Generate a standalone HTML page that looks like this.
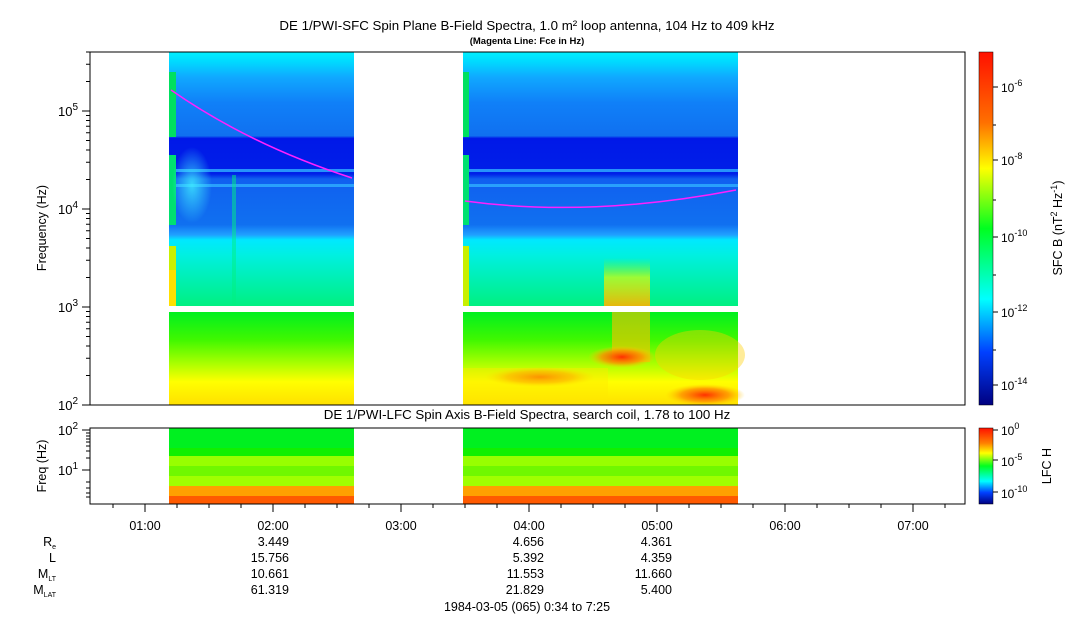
<!DOCTYPE html>
<html><head><meta charset="utf-8"><style>
body{margin:0;background:#fff;}
svg{display:block;font-family:"Liberation Sans",sans-serif;}
</style></head><body>
<svg width="1083" height="620" viewBox="0 0 1083 620" xmlns="http://www.w3.org/2000/svg">
<defs>
<linearGradient id="low" x1="0" y1="0" x2="0" y2="1">
<stop offset="0" stop-color="#00f020"/><stop offset="0.3" stop-color="#40f800"/><stop offset="0.55" stop-color="#a8ff00"/><stop offset="0.75" stop-color="#ffff00"/><stop offset="1" stop-color="#ffe000"/></linearGradient>
<linearGradient id="upb" x1="0" y1="0" x2="0" y2="1">
<stop offset="0" stop-color="#00f0ff"/><stop offset="0.04" stop-color="#00d8ff"/><stop offset="0.1" stop-color="#10a8ff"/><stop offset="0.2" stop-color="#1080f8"/><stop offset="0.33" stop-color="#1070f0"/><stop offset="0.34" stop-color="#0018e8"/><stop offset="0.48" stop-color="#0020e8"/><stop offset="0.5" stop-color="#1060f0"/><stop offset="0.68" stop-color="#1070f0"/><stop offset="0.72" stop-color="#20a0ff"/><stop offset="0.74" stop-color="#00e8ff"/><stop offset="0.8" stop-color="#00f0e0"/><stop offset="1" stop-color="#00f080"/></linearGradient>
<linearGradient id="cb" x1="0" y1="0" x2="0" y2="1">
<stop offset="0" stop-color="#ff1000"/><stop offset="0.2" stop-color="#ff7000"/><stop offset="0.33" stop-color="#ffff00"/><stop offset="0.5" stop-color="#00ff20"/><stop offset="0.7" stop-color="#00ffff"/><stop offset="0.85" stop-color="#0040ff"/><stop offset="1" stop-color="#000080"/></linearGradient>
<linearGradient id="cb2" x1="0" y1="0" x2="0" y2="1">
<stop offset="0" stop-color="#ff1000"/><stop offset="0.2" stop-color="#ff8000"/><stop offset="0.33" stop-color="#ffff00"/><stop offset="0.5" stop-color="#00ff20"/><stop offset="0.7" stop-color="#00ffff"/><stop offset="0.85" stop-color="#0040ff"/><stop offset="1" stop-color="#000080"/></linearGradient>
<linearGradient id="burst" x1="0" y1="0" x2="0" y2="1">
<stop offset="0" stop-color="#80ff00" stop-opacity="0"/><stop offset="0.4" stop-color="#e0ff00" stop-opacity="0.7"/><stop offset="1" stop-color="#ffb000" stop-opacity="0.9"/></linearGradient>
<radialGradient id="hot"><stop offset="0" stop-color="#ff3000"/><stop offset="0.6" stop-color="#ff9000" stop-opacity="0.8"/><stop offset="1" stop-color="#ffd000" stop-opacity="0"/></radialGradient>
<radialGradient id="cy"><stop offset="0" stop-color="#40f0ff" stop-opacity="0.8"/><stop offset="1" stop-color="#40f0ff" stop-opacity="0"/></radialGradient>
</defs>

<text x="527" y="30" font-size="13.3" text-anchor="middle">DE 1/PWI-SFC  Spin Plane B-Field Spectra, 1.0 m² loop antenna, 104 Hz to 409 kHz</text>
<text x="527" y="44" font-size="9.5" font-weight="bold" text-anchor="middle">(Magenta Line: Fce in Hz)</text>

<!-- block 1 -->
<rect x="169" y="52" width="185" height="254" fill="url(#upb)"/>
<rect x="169" y="169" width="185" height="3" fill="#30b0ff" opacity="0.8"/>
<rect x="169" y="184" width="185" height="3" fill="#30b0ff" opacity="0.8"/>
<rect x="169" y="312" width="185" height="93" fill="url(#low)"/>
<rect x="169" y="72" width="7" height="65" fill="#00e060"/>
<rect x="169" y="155" width="7" height="70" fill="#00e070"/>
<rect x="169" y="246" width="7" height="60" fill="#c8f000"/>
<rect x="169" y="270" width="7" height="36" fill="#ffe000"/>
<ellipse cx="192" cy="185" rx="20" ry="38" fill="url(#cy)"/>
<rect x="232" y="175" width="4" height="130" fill="#00f080" opacity="0.5"/>
<!-- block 2 -->
<rect x="463" y="52" width="275" height="254" fill="url(#upb)"/>
<rect x="463" y="169" width="275" height="3" fill="#30b0ff" opacity="0.8"/>
<rect x="463" y="184" width="275" height="3" fill="#30b0ff" opacity="0.8"/>
<rect x="463" y="312" width="275" height="93" fill="url(#low)"/>
<rect x="463" y="72" width="6" height="65" fill="#00e060"/>
<rect x="463" y="155" width="6" height="70" fill="#00e070"/>
<rect x="463" y="246" width="6" height="60" fill="#c8f000"/>
<rect x="604" y="258" width="46" height="48" fill="url(#burst)"/>
<rect x="612" y="312" width="38" height="50" fill="#ffc000" opacity="0.6"/>
<ellipse cx="622" cy="357" rx="34" ry="11" fill="url(#hot)"/>
<ellipse cx="540" cy="377" rx="55" ry="10" fill="url(#hot)" opacity="0.8"/>
<ellipse cx="705" cy="395" rx="40" ry="11" fill="url(#hot)"/>
<ellipse cx="700" cy="355" rx="45" ry="25" fill="#ffd000" opacity="0.4"/>
<rect x="463" y="368" width="145" height="37" fill="#ffe800" opacity="0.4"/>
<path d="M171,90 Q250,145 352,178" stroke="#ff20ff" stroke-width="1.5" fill="none"/>
<path d="M465,201 Q590,218 736,190" stroke="#ff20ff" stroke-width="1.5" fill="none"/>

<rect x="90" y="52" width="875" height="353" fill="none" stroke="#000" stroke-width="1"/>
<g stroke="#000">
<line x1="82" y1="405" x2="90" y2="405"/><line x1="82" y1="307" x2="90" y2="307"/><line x1="82" y1="209" x2="90" y2="209"/><line x1="82" y1="111" x2="90" y2="111"/>
<path d="M86,375.5h4M86,358.3h4M86,346h4M86,336.5h4M86,328.7h4M86,322.2h4M86,316.5h4M86,311.5h4
M86,277.5h4M86,260.3h4M86,248h4M86,238.5h4M86,230.7h4M86,224.2h4M86,218.5h4M86,213.5h4
M86,179.5h4M86,162.3h4M86,150h4M86,140.5h4M86,132.7h4M86,126.2h4M86,120.5h4M86,115.5h4
M86,81.5h4M86,64.3h4M86,52h4"/>
</g>
<g font-size="13" text-anchor="end">
<text x="78" y="410">10<tspan font-size="10" dy="-6">2</tspan></text>
<text x="78" y="312">10<tspan font-size="10" dy="-6">3</tspan></text>
<text x="78" y="214">10<tspan font-size="10" dy="-6">4</tspan></text>
<text x="78" y="116">10<tspan font-size="10" dy="-6">5</tspan></text>
</g>
<text transform="translate(46,228) rotate(-90)" font-size="12.5" text-anchor="middle">Frequency (Hz)</text>

<rect x="979" y="52" width="14" height="353" fill="url(#cb)" stroke="#000" stroke-width="0.5"/>
<g stroke="#000"><path d="M993,87h5M993,125h3M993,160h5M993,200h3M993,237h5M993,275h3M993,312h5M993,350h3M993,385h5"/></g>
<g font-size="12">
<text x="1001" y="92">10<tspan font-size="9" dy="-6">-6</tspan></text>
<text x="1001" y="165">10<tspan font-size="9" dy="-6">-8</tspan></text>
<text x="1001" y="242">10<tspan font-size="9" dy="-6">-10</tspan></text>
<text x="1001" y="317">10<tspan font-size="9" dy="-6">-12</tspan></text>
<text x="1001" y="390">10<tspan font-size="9" dy="-6">-14</tspan></text>
</g>
<text transform="translate(1062,228) rotate(-90)" font-size="12.5" text-anchor="middle">SFC B (nT<tspan font-size="9" dy="-5">2</tspan><tspan dy="5"> Hz</tspan><tspan font-size="9" dy="-5">-1</tspan><tspan dy="5">)</tspan></text>

<text x="527" y="419" font-size="13.3" text-anchor="middle">DE 1/PWI-LFC  Spin Axis B-Field Spectra, search coil, 1.78 to 100 Hz</text>
<g>
<rect x="169" y="428" width="185" height="20" fill="#00f020"/><rect x="169" y="448" width="185" height="8" fill="#10f000"/><rect x="169" y="456" width="185" height="10" fill="#98ff00"/><rect x="169" y="466" width="185" height="10" fill="#70f800"/><rect x="169" y="476" width="185" height="10" fill="#a0ff00"/><rect x="169" y="486" width="185" height="10" fill="#ffa000"/><rect x="169" y="496" width="185" height="8" fill="#ff5a00"/>
<rect x="463" y="428" width="275" height="20" fill="#00f020"/><rect x="463" y="448" width="275" height="8" fill="#10f000"/><rect x="463" y="456" width="275" height="10" fill="#98ff00"/><rect x="463" y="466" width="275" height="10" fill="#70f800"/><rect x="463" y="476" width="275" height="10" fill="#a0ff00"/><rect x="463" y="486" width="275" height="10" fill="#ffa000"/><rect x="463" y="496" width="275" height="8" fill="#ff5a00"/>
</g>
<rect x="90" y="428" width="875" height="76" fill="none" stroke="#000"/>
<g stroke="#000"><path d="M82,430h8M82,470h8M86,482h4M86,458h4M86,451h4M86,446h4M86,442h4M86,439h4M86,436h4M86,433h4M86,488h4M86,493h4M86,497h4"/></g>
<g font-size="13" text-anchor="end">
<text x="78" y="435">10<tspan font-size="10" dy="-6">2</tspan></text>
<text x="78" y="475">10<tspan font-size="10" dy="-6">1</tspan></text>
</g>
<text transform="translate(46,466) rotate(-90)" font-size="12.5" text-anchor="middle">Freq (Hz)</text>
<rect x="979" y="428" width="14" height="76" fill="url(#cb2)" stroke="#000" stroke-width="0.5"/>
<g stroke="#000"><path d="M993,430h5M993,460h5M993,492h5"/></g>
<g font-size="12">
<text x="1001" y="435">10<tspan font-size="9" dy="-6">0</tspan></text>
<text x="1001" y="466">10<tspan font-size="9" dy="-6">-5</tspan></text>
<text x="1001" y="498">10<tspan font-size="9" dy="-6">-10</tspan></text>
</g>
<text transform="translate(1051,466) rotate(-90)" font-size="12.5" text-anchor="middle">LFC H</text>

<g stroke="#000">
<path d="M145,504v8M273,504v8M401,504v8M529,504v8M657,504v8M785,504v8M913,504v8"/>
<path d="M113,504v4M177,504v4M209,504v4M241,504v4M305,504v4M337,504v4M369,504v4M433,504v4M465,504v4M497,504v4M561,504v4M593,504v4M625,504v4M689,504v4M721,504v4M753,504v4M817,504v4M849,504v4M881,504v4M945,504v4"/>
</g>
<g font-size="12.5" text-anchor="middle">
<text x="145" y="530">01:00</text><text x="273" y="530">02:00</text><text x="401" y="530">03:00</text><text x="529" y="530">04:00</text><text x="657" y="530">05:00</text><text x="785" y="530">06:00</text><text x="913" y="530">07:00</text>
</g>
<g font-size="12.5" text-anchor="end">
<text x="56" y="546">R<tspan font-size="7" dy="3">e</tspan></text>
<text x="56" y="562">L</text>
<text x="56" y="578">M<tspan font-size="7" dy="3">LT</tspan></text>
<text x="56" y="594">M<tspan font-size="7" dy="3">LAT</tspan></text>
<text x="289" y="546">3.449</text><text x="289" y="562">15.756</text><text x="289" y="578">10.661</text><text x="289" y="594">61.319</text>
<text x="544" y="546">4.656</text><text x="544" y="562">5.392</text><text x="544" y="578">11.553</text><text x="544" y="594">21.829</text>
<text x="672" y="546">4.361</text><text x="672" y="562">4.359</text><text x="672" y="578">11.660</text><text x="672" y="594">5.400</text>
</g>
<text x="527" y="611" font-size="12.5" text-anchor="middle">1984-03-05 (065) 0:34 to 7:25</text>
</svg>
</body></html>
